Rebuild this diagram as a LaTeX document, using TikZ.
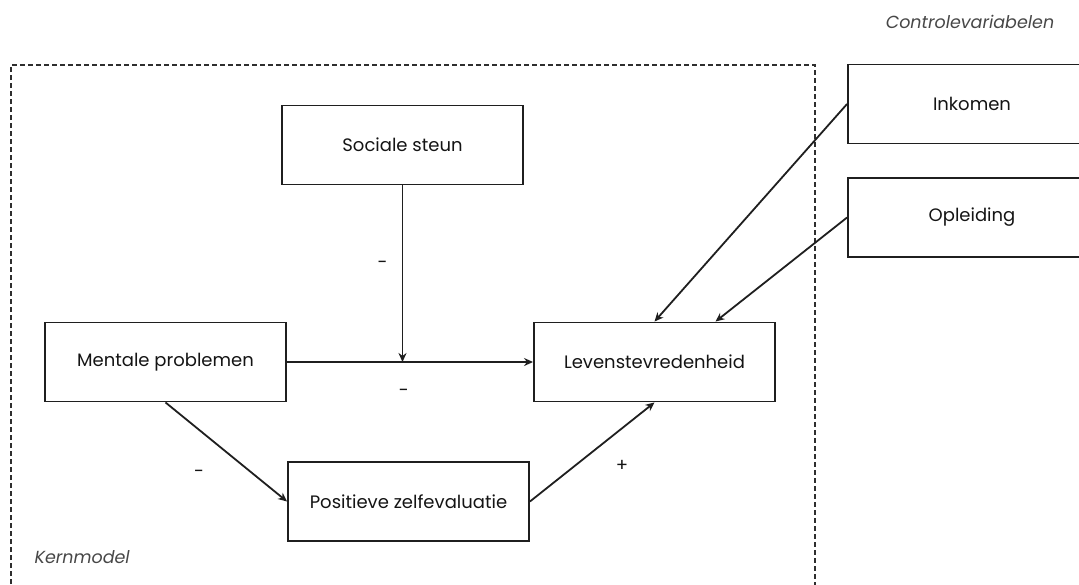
\documentclass[tikz,border=0pt]{standalone}
\usepackage{fontspec}
\setmainfont{Poppins}
\usetikzlibrary{arrows.meta}

\tikzset{
  var/.style={draw=black!88, line width=1.9pt, minimum width=241pt, minimum height=79pt,
    font=\fontsize{18}{21}\selectfont, text=black!92},
  pad/.style={-{Stealth[length=9pt,width=8pt]}, line width=1.8pt, draw=black!88},
  sign/.style={font=\fontsize{18}{21}\selectfont, text=black!92},
  note/.style={font=\fontsize{17.5}{20}\selectfont\itshape, text=black!72}
}

\begin{document}
\begin{tikzpicture}[x=1pt, y=-1pt, auto]
        \useasboundingbox (0,0) rectangle (1079,584);

        \draw[line width=1.5pt, black!82, dash pattern=on 5pt off 3pt]
          (11,600) -- (11,65) -- (815,65) -- (815,600);

        \node[note] (CV) at (970,22) {Controlevariabelen};
        \node[note, anchor=west] (KM) at (31,557) {Kernmodel};

        \node[var] (SS) at (402.5,145) {Sociale steun};
        \node[var] (MP) at (165.5,362) {Mentale problemen};
        \node[var] (LV) at (654.5,362) {Levenstevredenheid};
        \node[var] (PZ) at (408.5,501.5) {Positieve zelfevaluatie};
        \node[var, minimum width=248pt] (IK) at (972,104) {Inkomen};
        \node[var, minimum width=248pt] (OL) at (972,217.5) {Opleiding};

        \coordinate (M) at (SS.south |- MP.east);

        \draw[pad] (MP) to node[swap, sign, pos=0.475, inner sep=26pt]{-}(LV);
        \draw[pad] (SS) to node[swap, sign, pos=0.45, inner sep=14pt]{-}(M);
        \draw[pad] (MP.south) to node[swap, sign, pos=0.48, inner sep=19pt]{-}(PZ.west);
        \draw[pad] (PZ.east) to node[swap, sign, pos=0.57, inner sep=14pt]{+}(LV.south);
        \draw[pad] (IK.west) to (LV.north);
        \draw[pad] (OL.west) to ([xshift=61pt]LV.north);

      \end{tikzpicture}
\end{document}
